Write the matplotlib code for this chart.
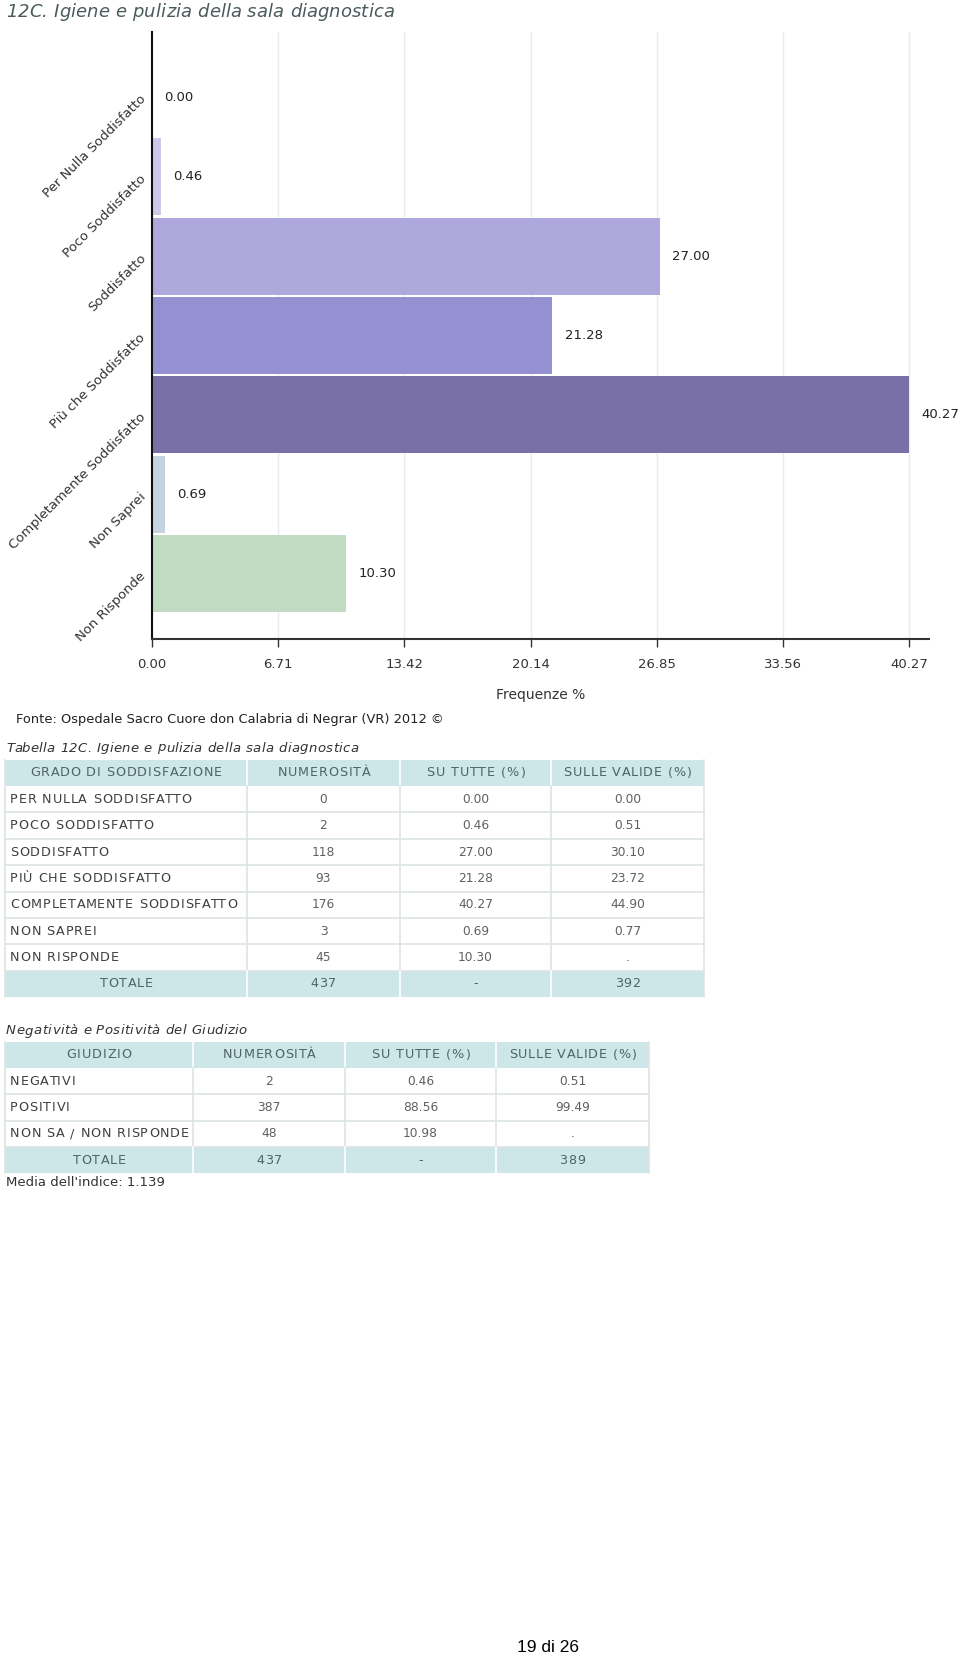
import matplotlib
matplotlib.use("Agg")
import matplotlib.pyplot as plt
from matplotlib.patches import Rectangle
from matplotlib.font_manager import FontProperties

# ---------------- data ----------------
categories = ["Per Nulla Soddisfatto", "Poco Soddisfatto", "Soddisfatto",
              "Più che Soddisfatto", "Completamente Soddisfatto",
              "Non Saprei", "Non Risponde"]
values = [0.00, 0.46, 27.00, 21.28, 40.27, 0.69, 10.30]
bar_colors = ["#dcd8f0", "#cdc9ea", "#aea8dc", "#9590d1", "#7970a8", "#c6d3e1", "#c1dcc3"]
xticks = [0.00, 6.71, 13.42, 20.14, 26.85, 33.56, 40.27]

t1_header = ["GRADO DI SODDISFAZIONE", "NUMEROSITÀ", "SU TUTTE (%)", "SULLE VALIDE (%)"]
t1_labels = ["PER NULLA SODDISFATTO", "POCO SODDISFATTO", "SODDISFATTO",
             "PIÙ CHE SODDISFATTO", "COMPLETAMENTE SODDISFATTO", "NON SAPREI", "NON RISPONDE"]
t1_n = ["0", "2", "118", "93", "176", "3", "45"]
t1_all = ["0.00", "0.46", "27.00", "21.28", "40.27", "0.69", "10.30"]
t1_valid = ["0.00", "0.51", "30.10", "23.72", "44.90", "0.77", "."]
t1_total = ["TOTALE", "437", "-", "392"]

t2_header = ["GIUDIZIO", "NUMEROSITÀ", "SU TUTTE (%)", "SULLE VALIDE (%)"]
t2_labels = ["NEGATIVI", "POSITIVI", "NON SA / NON RISPONDE"]
t2_n = ["2", "387", "48"]
t2_all = ["0.46", "88.56", "10.98"]
t2_valid = ["0.51", "99.49", "."]
t2_total = ["TOTALE", "437", "-", "389"]

W, H = 960, 1659
fig = plt.figure(figsize=(W / 100, H / 100), dpi=100)
fig.patch.set_facecolor("white")
renderer = fig.canvas.get_renderer()

def px_axes(left, top, right, bottom):
    return fig.add_axes([left / W, 1 - bottom / H, (right - left) / W, (bottom - top) / H])

# ---------------- bar chart ----------------
ax = px_axes(152, 32, 929, 639)
ax.set_facecolor("none")
n = len(categories)
ypos = list(range(n))
ax.barh(ypos, values, height=0.97, color=bar_colors, zorder=2)
ax.set_ylim(n - 1 + 0.82, -0.82)
ax.set_xlim(0, 41.33)
for y, v in zip(ypos, values):
    ax.annotate(f"{v:.2f}", xy=(v, y), xytext=(9, 0), textcoords="offset points",
                ha="left", va="center", fontsize=9.5, color="#222222", family="DejaVu Sans")
ax.set_xticks(xticks)
ax.set_xticklabels([f"{t:.2f}" for t in xticks], fontsize=9.5, color="#333333")
ax.tick_params(axis="x", direction="out", length=6, width=1, color="#333333", pad=8)
ax.set_yticks(ypos)
ax.set_yticklabels(categories, rotation=45, ha="right", va="center",
                   rotation_mode="anchor", fontsize=9.5, color="#333333")
ax.tick_params(axis="y", length=0, pad=6)
ax.grid(axis="x", color="#e9ecee", linewidth=1, zorder=0)
ax.set_axisbelow(True)
for s in ["top", "right"]:
    ax.spines[s].set_visible(False)
ax.spines["left"].set_color("#111111")
ax.spines["left"].set_linewidth(1.5)
ax.spines["bottom"].set_color("#333333")
ax.spines["bottom"].set_linewidth(1.5)

# ---------------- overlay for text & tables ----------------
ov = fig.add_axes([0, 0, 1, 1])
ov.set_xlim(0, W)
ov.set_ylim(H, 0)
ov.axis("off")
ov.set_zorder(-1)

def tw(s, prop):
    if not s:
        return 0.0
    w, h, d = renderer.get_text_width_height_descent(s, prop, ismath=False)
    return w

def tracked(x, y, s, size, color, tracking, ha="left", style="normal", weight="normal"):
    prop = FontProperties(family="DejaVu Sans", size=size, style=style, weight=weight)
    total = tw(s, prop) + tracking * (len(s) - 1)
    if ha == "center":
        x0 = x - total / 2
    elif ha == "right":
        x0 = x - total
    else:
        x0 = x
    for i, ch in enumerate(s):
        if ch == " ":
            continue
        xi = x0 + tw(s[:i], prop) + tracking * i
        ov.text(xi, y, ch, fontproperties=prop, color=color, ha="left", va="center")

tracked(6, 12, "12C. Igiene e pulizia della sala diagnostica", 13, "#4a5b5b", 0.1,
        style="italic")
ov.text(541, 695, "Frequenze %", fontsize=10, color="#333333", ha="center", va="center")
ov.text(16, 720, "Fonte: Ospedale Sacro Cuore don Calabria di Negrar (VR) 2012 ©",
        fontsize=9.35, color="#222222", ha="left", va="center")

HEAD_BG = "#cde6e8"
LINE = "#dde4e4"
HEAD_TXT = "#4f6466"
TXT = "#404040"
NUM = "#606060"
TRK = 0.85
TS = 9.2

def draw_table(cols, top, head_h, row_h, header, labels, c2, c3, c4, total):
    left, right = cols[0], cols[-1]
    nrows = len(labels)
    ov.add_patch(Rectangle((left, top), right - left, head_h, facecolor=HEAD_BG, edgecolor="none"))
    for j in range(4):
        tracked((cols[j] + cols[j + 1]) / 2, top + head_h / 2, header[j], TS,
                HEAD_TXT, TRK, ha="center")
    for j in range(1, 4):
        ov.plot([cols[j], cols[j]], [top, top + head_h], color="white", lw=1.2)
    y = top + head_h
    for i in range(nrows):
        ov.add_patch(Rectangle((left, y), right - left, row_h, facecolor="white",
                               edgecolor="none"))
        tracked(left + 5, y + row_h / 2, labels[i], TS, TXT, TRK, ha="left")
        for j, col in enumerate([c2, c3, c4], start=1):
            ov.text((cols[j] + cols[j + 1]) / 2, y + row_h / 2, col[i], fontsize=8.8,
                    color=NUM, ha="center", va="center")
        ov.plot([left, right], [y + row_h, y + row_h], color=LINE, lw=1.2)
        for j in range(1, 4):
            ov.plot([cols[j], cols[j]], [y, y + row_h], color=LINE, lw=1.2)
        y += row_h
    ov.add_patch(Rectangle((left, y), right - left, row_h, facecolor=HEAD_BG, edgecolor="none"))
    for j in range(4):
        tracked((cols[j] + cols[j + 1]) / 2, y + row_h / 2, total[j], TS,
                HEAD_TXT, TRK, ha="center")
    for j in range(1, 4):
        ov.plot([cols[j], cols[j]], [y, y + row_h], color="white", lw=1.2)
    ov.plot([left, left], [top, y + row_h], color=LINE, lw=1.2)
    ov.plot([right, right], [top, y + row_h], color=LINE, lw=1.2)
    return y + row_h

tracked(6, 748, "Tabella 12C. Igiene e pulizia della sala diagnostica", 9.5, "#333333", 0.38,
        style="italic")
draw_table([5, 247, 400, 551, 704], 760, 26, 26.4, t1_header, t1_labels,
           t1_n, t1_all, t1_valid, t1_total)

tracked(6, 1031, "Negatività e Positività del Giudizio", 9.5, "#333333", 0.4,
        style="italic")
draw_table([5, 193, 345, 496, 649], 1042, 26, 26.3, t2_header, t2_labels,
           t2_n, t2_all, t2_valid, t2_total)

ov.text(6, 1183, "Media dell'indice: 1.139", fontsize=9.5, color="#333333",
        ha="left", va="center")

ov.text(548, 1648, "19 di 26", fontsize=12.5, color="#000000", ha="center", va="center",
        family="Liberation Sans")

fig.savefig("out.png", dpi=100, facecolor="white")
